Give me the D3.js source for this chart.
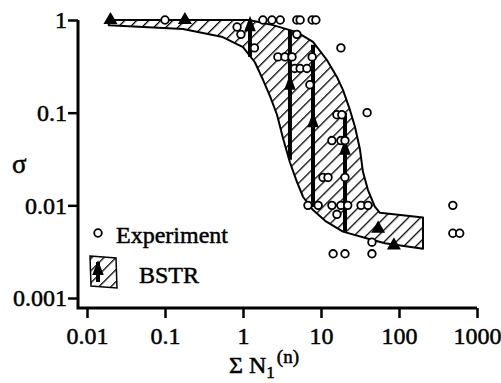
<!DOCTYPE html>
<html>
<head>
<meta charset="utf-8">
<script src="https://cdn.jsdelivr.net/npm/d3@7"></script>
<style>
  html, body { margin: 0; padding: 0; background: #fff; }
  svg { display: block; }
  text { font-family: "Liberation Serif", "DejaVu Serif", serif; fill: #000; stroke: #000; stroke-width: 0.5px; }
</style>
</head>
<body>
<svg id="chart" width="501" height="383"></svg>
<script>
// axis ticks
const xTicks = [0.01, 0.1, 1, 10, 100, 1000];
const yTicks = [0.001, 0.01, 0.1, 1];

// BSTR band, upper edge (left -> right) and lower edge (left -> right)
const bandUpper = [
  [0.019, 1], [1.2, 1], [2.42, 0.88], [4.9, 0.74], [7.9, 0.58], [11.9, 0.37],
  [16, 0.243], [19.1, 0.176], [23.5, 0.107], [27.3, 0.07], [31.6, 0.04],
  [34.5, 0.023], [40, 0.0146], [49, 0.0097], [57, 0.0083], [203, 0.0074]
];
const bandLower = [
  [0.019, 0.88], [0.17, 0.8], [0.55, 0.655], [1.0, 0.51], [1.42, 0.35],
  [1.81, 0.225], [2.22, 0.151], [2.73, 0.095], [3.26, 0.053], [4.0, 0.029],
  [4.9, 0.018], [5.9, 0.0123], [7.9, 0.0089], [11.3, 0.0068], [19.1, 0.0052],
  [42.5, 0.0043], [66, 0.0039], [203, 0.0034]
];

// BSTR ranges: x, low, high, arrowhead position
const bstrArrows = [
  { x: 1.23, lo: 0.40, hi: 1.0, head: 0.86 },
  { x: 4.0, lo: 0.031, hi: 0.78, head: 0.2 },
  { x: 7.9, lo: 0.0096, hi: 0.54, head: 0.079 },
  { x: 20.3, lo: 0.0052, hi: 0.1, head: 0.04 }
];

// BSTR single points (triangles)
const bstrPoints = [[0.02, 1], [0.18, 1], [54, 0.0056], [86, 0.0037]];

// experiment points
const experiment = [
  [0.1, 1],
  [1.8, 1], [2.35, 1], [3.0, 1], [4.9, 1], [5.4, 1], [7.7, 1], [8.6, 1],
  [0.84, 0.84], [0.94, 0.7], [1.4, 0.5], [4.9, 0.7],
  [2.8, 0.4], [3.45, 0.4], [4.25, 0.4], [7.7, 0.4],
  [4.6, 0.3], [5.4, 0.3], [6.6, 0.3], [7.2, 0.2],
  [18, 0.5], [39, 0.1], [16, 0.095], [18.5, 0.095],
  [13.8, 0.05], [18, 0.05], [20.3, 0.05],
  [10.6, 0.02], [12.3, 0.02], [20.3, 0.02],
  [6.8, 0.01], [9.2, 0.01], [13.8, 0.01], [18, 0.01], [22, 0.01], [32.6, 0.01], [40, 0.01],
  [16, 0.008], [45, 0.004], [45, 0.003], [14.3, 0.003], [20.3, 0.003],
  [490, 0.01], [490, 0.005], [600, 0.005]
];

const svg = d3.select('#chart');
svg.append('rect').attr('width', 501).attr('height', 383).attr('fill', '#fff');

const x = d3.scaleLog().domain([0.01, 1000]).range([87, 477]);
const y = d3.scaleLog().domain([0.001, 1]).range([298, 20]);
const axisX = x.range()[0] - 9;
const axisY = y.range()[0] + 10;

const defs = svg.append('defs');
const hatch = defs.append('pattern')
  .attr('id', 'hatch')
  .attr('patternUnits', 'userSpaceOnUse')
  .attr('width', 8.5).attr('height', 8.5)
  .attr('patternTransform', 'rotate(45)');
hatch.append('rect').attr('width', 8.5).attr('height', 8.5).attr('fill', '#fff');
hatch.append('line').attr('x1', 0).attr('y1', 0).attr('x2', 0).attr('y2', 8.5)
  .attr('stroke', '#000').attr('stroke-width', 2.6);

// band
const bandPts = bandUpper.concat(bandLower.slice().reverse());
svg.append('path')
  .datum(bandPts)
  .attr('d', d3.line().x(d => x(d[0])).y(d => y(d[1])).curve(d3.curveLinearClosed))
  .attr('fill', 'url(#hatch)')
  .attr('stroke', '#000')
  .attr('stroke-width', 2)
  .attr('stroke-linejoin', 'round');

// arrows
const arrows = svg.append('g');
arrows.selectAll('line')
  .data(bstrArrows)
  .join('line')
  .attr('x1', d => x(d.x)).attr('x2', d => x(d.x))
  .attr('y1', d => y(d.lo)).attr('y2', d => y(d.hi))
  .attr('stroke', '#000').attr('stroke-width', 4);
arrows.selectAll('path')
  .data(bstrArrows)
  .join('path')
  .attr('d', d3.symbol().type(d3.symbolTriangle).size(80))
  .attr('transform', d => `translate(${x(d.x)},${y(d.head)}) scale(0.85,1.3)`)
  .attr('fill', '#000');

// triangles
svg.append('g').selectAll('path')
  .data(bstrPoints)
  .join('path')
  .attr('d', d3.symbol().type(d3.symbolTriangle).size(85))
  .attr('transform', d => `translate(${x(d[0])},${y(d[1])})`)
  .attr('fill', '#000');

// experiment circles
svg.append('g').selectAll('circle')
  .data(experiment)
  .join('circle')
  .attr('cx', d => x(d[0]))
  .attr('cy', d => y(d[1]))
  .attr('r', 3.8)
  .attr('fill', '#fff')
  .attr('stroke', '#000')
  .attr('stroke-width', 1.8);

// axes
const fmt = d => String(d);
const gx = svg.append('g')
  .attr('transform', `translate(0,${axisY})`)
  .call(d3.axisBottom(x).tickValues(xTicks).tickFormat(fmt).tickSize(10).tickSizeOuter(0).tickPadding(9));
const gy = svg.append('g')
  .attr('transform', `translate(${axisX},0)`)
  .call(d3.axisLeft(y).tickValues(yTicks).tickFormat(fmt).tickSize(10).tickSizeOuter(0).tickPadding(1));
[gx, gy].forEach(g => {
  g.select('.domain').remove();
  g.selectAll('line').attr('stroke', '#000').attr('stroke-width', 2.5);
  g.selectAll('text').attr('font-size', 24).attr('font-family', '"Liberation Serif", serif')
    .attr('fill', '#000').attr('stroke', '#000').attr('stroke-width', 0.5);
});
svg.append('path')
  .attr('d', `M${axisX},${y(1)}V${axisY}H${x(1000)}`)
  .attr('fill', 'none').attr('stroke', '#000').attr('stroke-width', 3);

// axis titles
svg.append('text').attr('x', 12).attr('y', 173).attr('font-size', 27).text('σ');
const xt = svg.append('text').attr('x', 229).attr('y', 373).attr('font-size', 24);
xt.append('tspan').text('Σ N');
xt.append('tspan').attr('font-size', 17).attr('dy', 5).text('1');
xt.append('tspan').attr('font-size', 19).attr('dy', -15).attr('dx', 2).text('(n)');

// legend
const lg = svg.append('g');
lg.append('circle').attr('cx', 98).attr('cy', 233).attr('r', 3.8)
  .attr('fill', '#fff').attr('stroke', '#000').attr('stroke-width', 1.8);
lg.append('text').attr('x', 116).attr('y', 243).attr('font-size', 24).text('Experiment');
lg.append('path').attr('d', 'M90,256L116,258L117,288L91,286Z')
  .attr('fill', 'url(#hatch)').attr('stroke', '#000').attr('stroke-width', 1.5);
lg.append('line').attr('x1', 98).attr('x2', 98).attr('y1', 262).attr('y2', 282)
  .attr('stroke', '#000').attr('stroke-width', 4);
lg.append('path').attr('d', d3.symbol().type(d3.symbolTriangle).size(80))
  .attr('transform', 'translate(98,270) scale(0.85,1.25)').attr('fill', '#000');
lg.append('text').attr('x', 139).attr('y', 283).attr('font-size', 24).text('BSTR');
</script>
</body>
</html>
